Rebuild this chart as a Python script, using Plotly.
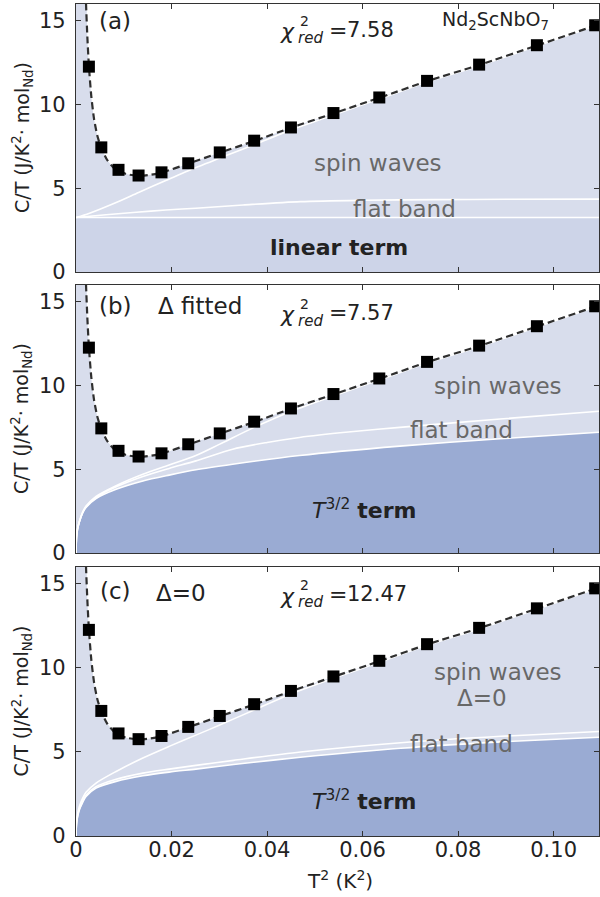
import plotly.graph_objects as go

# ---------------- data ----------------
t2 = [0.0027, 0.0053, 0.0089, 0.0131, 0.0179, 0.0235, 0.0301, 0.0373, 0.0450,
      0.0539, 0.0635, 0.0735, 0.0844, 0.0965, 0.1087]
ct = [12.26, 7.44, 6.10, 5.76, 5.95, 6.49, 7.14, 7.84, 8.63,
      9.49, 10.42, 11.41, 12.38, 13.54, 14.73]

fit_x = [0.0019, 0.0021, 0.0024, 0.0027, 0.0032, 0.0038, 0.0045, 0.0053, 0.0065,
         0.0078, 0.0089, 0.0105, 0.0131, 0.0155, 0.0179, 0.0235, 0.0301, 0.0373,
         0.0450, 0.0539, 0.0635, 0.0735, 0.0844, 0.0965, 0.1087]
fit_y = [18.0, 16.0, 13.9, 12.3, 10.5, 9.1, 8.1, 7.4, 6.7,
         6.25, 6.05, 5.85, 5.74, 5.80, 5.93, 6.47, 7.12, 7.82,
         8.61, 9.47, 10.40, 11.39, 12.36, 13.52, 14.71]

# panel (a)
lin_a_x = [0.0, 0.11]
lin_a_y = [3.25, 3.25]
flat_a_x = [0.0, 0.0063, 0.0126, 0.0188, 0.0251, 0.035, 0.047, 0.060, 0.075, 0.090, 0.110]
flat_a_y = [3.25, 3.42, 3.57, 3.70, 3.81, 4.00, 4.20, 4.28, 4.32, 4.34, 4.35]
sw_a_x = [0.0, 0.0027, 0.005, 0.0094, 0.0131, 0.0188, 0.0235, 0.0301, 0.0373, 0.045,
          0.0539, 0.0635, 0.0735, 0.0844, 0.0965, 0.110]
sw_a_y = [3.25, 3.50, 3.75, 4.27, 4.75, 5.46, 6.05, 6.80, 7.60, 8.48,
          9.38, 10.33, 11.34, 12.32, 13.49, 14.82]

# panel (b)
t32_b_x = [0.0, 0.0001, 0.0003, 0.0007, 0.0014, 0.0021, 0.0042, 0.0084, 0.014, 0.0195,
           0.0251, 0.0328, 0.0468, 0.0678, 0.0888, 0.110]
t32_b_y = [0.0, 0.90, 1.40, 1.85, 2.40, 2.72, 3.25, 3.80, 4.30, 4.65,
           4.97, 5.30, 5.82, 6.38, 6.82, 7.22]
flat_b_x = [0.0, 0.0001, 0.0003, 0.0007, 0.0014, 0.0021, 0.0042, 0.0084, 0.014, 0.0195,
            0.0251, 0.0328, 0.040, 0.0468, 0.057, 0.0678, 0.0888, 0.110]
flat_b_y = [0.0, 0.90, 1.40, 1.86, 2.42, 2.76, 3.32, 3.95, 4.57, 5.05,
            5.50, 6.20, 6.60, 6.90, 7.22, 7.50, 8.00, 8.47]
sw_b_x = [0.0, 0.0001, 0.0003, 0.0007, 0.0014, 0.0021, 0.0042, 0.0084, 0.014, 0.0195,
          0.0251, 0.0301, 0.0373, 0.045, 0.0539, 0.0635, 0.0735, 0.0844, 0.0965, 0.110]
sw_b_y = [0.0, 0.90, 1.40, 1.87, 2.44, 2.80, 3.38, 4.02, 4.70, 5.25,
          5.82, 6.50, 7.50, 8.45, 9.38, 10.33, 11.34, 12.32, 13.49, 14.82]

# panel (c)
t32_c_x = [0.0, 0.0001, 0.0003, 0.0007, 0.0014, 0.0021, 0.0042, 0.0084, 0.014, 0.0195,
           0.0251, 0.033, 0.047, 0.068, 0.089, 0.110]
t32_c_y = [0.0, 0.70, 1.10, 1.55, 2.00, 2.35, 2.85, 3.25, 3.58, 3.80,
           3.98, 4.25, 4.68, 5.22, 5.60, 5.88]
flat_c_y = [0.0, 0.72, 1.13, 1.60, 2.06, 2.42, 2.94, 3.38, 3.74, 3.98,
            4.20, 4.50, 5.00, 5.55, 5.93, 6.22]
sw_c_y = [0.0, 0.80, 1.25, 1.75, 2.25, 2.60, 3.15, 3.84, 4.64, 5.33,
          6.00, 6.60, 7.50, 8.45, 9.38, 10.33, 11.34, 12.32, 13.49, 14.82]

x_ticks = [0, 0.02, 0.04, 0.06, 0.08, 0.10]
x_ticklabels = ["0", "0.02", "0.04", "0.06", "0.08", "0.10"]
y_ticks = [0, 5, 10, 15]
YMAX = 16.0
XMAX = 0.1095

# ---------------- styling ----------------
LIGHT = "#d8ddec"
LIN = "#cdd4e8"
DARK = "#9aabd3"
GRAY = "#686868"
FONT = "DejaVu Sans"

W, H = 600, 897
ML, MR, MT, MB = 76, 1, 4, 61
PW = W - ML - MR
PH = H - MT - MB

panels = [(4, 272), (285, 553), (567, 836)]  # pixel top/bottom of each panel


def dom(top, bot):
    return [(H - MB - bot) / PH, (H - MB - top) / PH]


fig = go.Figure()

fill_x = [0.0] + fit_x + [XMAX]
fill_y = [YMAX] + [min(v, YMAX) for v in fit_y] + [14.82]


def white_line(x, y, xa, ya, fill=None, fc=None):
    fig.add_trace(go.Scatter(
        x=x, y=y, xaxis=xa, yaxis=ya, mode="lines",
        line=dict(color="white", width=1.6, shape="spline", smoothing=0.8),
        fill=fill, fillcolor=fc, hoverinfo="skip", showlegend=False))


axes = [("x", "y"), ("x2", "y2"), ("x3", "y3")]
for i, (xa, ya) in enumerate(axes):
    fig.add_trace(go.Scatter(
        x=fill_x, y=fill_y, xaxis=xa, yaxis=ya, mode="lines",
        line=dict(width=0, shape="spline", smoothing=0.6),
        fill="tozeroy", fillcolor=LIGHT, hoverinfo="skip", showlegend=False))
    if i == 0:
        white_line(lin_a_x, lin_a_y, xa, ya, fill="tozeroy", fc=LIN)
        white_line(flat_a_x, flat_a_y, xa, ya)
        white_line(sw_a_x, sw_a_y, xa, ya)
    elif i == 1:
        white_line(t32_b_x, t32_b_y, xa, ya, fill="tozeroy", fc=DARK)
        white_line(flat_b_x, flat_b_y, xa, ya)
        white_line(sw_b_x, sw_b_y, xa, ya)
    else:
        white_line(t32_c_x, t32_c_y, xa, ya, fill="tozeroy", fc=DARK)
        white_line(t32_c_x, flat_c_y, xa, ya)
        white_line(sw_b_x, sw_c_y, xa, ya)
    fig.add_trace(go.Scatter(
        x=fit_x, y=fit_y, xaxis=xa, yaxis=ya, mode="lines",
        line=dict(color="#2f2f2f", width=2.2, dash="7px,4px", shape="spline", smoothing=0.6),
        hoverinfo="skip", showlegend=False))
    fig.add_trace(go.Scatter(
        x=t2, y=ct, xaxis=xa, yaxis=ya, mode="markers",
        marker=dict(symbol="square", size=12, color="black", line=dict(width=0)),
        showlegend=False))

axis_common = dict(showline=True, linecolor="#333333", linewidth=1.3, mirror="allticks",
                   ticks="inside", ticklen=5, tickwidth=1.1, tickcolor="#333333",
                   showgrid=False, zeroline=False, automargin=False,
                   tickfont=dict(family=FONT, size=21, color="#222"))

layout = dict(width=W, height=H, margin=dict(l=ML, r=MR, t=MT, b=MB, autoexpand=False),
              paper_bgcolor="white", plot_bgcolor="white",
              font=dict(family=FONT, color="#222"), showlegend=False)
for i, (top, bot) in enumerate(panels):
    sfx = "" if i == 0 else str(i + 1)
    xa = dict(axis_common, range=[0, XMAX], tickvals=x_ticks, ticktext=x_ticklabels,
              domain=[0, 1], anchor="y" + sfx, showticklabels=(i == 2))
    if i == 2:
        xa["ticklabelstandoff"] = -5
    if i > 0:
        xa["matches"] = "x"
    ya = dict(axis_common, range=[0, YMAX], tickvals=y_ticks, domain=dom(top, bot),
              anchor="x" + sfx, ticklabelstandoff=5)
    layout["xaxis" + sfx] = xa
    layout["yaxis" + sfx] = ya
fig.update_layout(**layout)


def ann(px, py, text, size=23, color="#222", xanchor="center", yanchor="middle", angle=0):
    fig.add_annotation(x=(px - ML) / PW, y=(H - MB - py) / PH, xref="paper", yref="paper",
                       text=text, showarrow=False, xanchor=xanchor, yanchor=yanchor,
                       textangle=angle, font=dict(family=FONT, size=size, color=color))


def chi(px, py, val):
    ann(px, py + 2, "<i>χ</i>", size=22, xanchor="right")
    ann(px + 1, py - 9, "2", size=14, xanchor="left")
    ann(px - 1, py + 8, "<i>red</i>", size=15, xanchor="left")
    ann(px + 30, py, "=", size=22, xanchor="left")
    ann(px + 48, py, val, size=21, xanchor="left")


# axis titles
ytitle = "C/T (J/K<sup>2</sup>· mol<sub>Nd</sub>)"
for top, bot in panels:
    ann(22, (top + bot) / 2, ytitle, size=19, angle=-90)
ann(340, 880, "T<sup>2</sup> (K<sup>2</sup>)", size=20)

# panel (a)
ann(115, 21, "(a)")
chi(297, 30, "7.58")
ann(495, 20, "Nd<sub>2</sub>ScNbO<sub>7</sub>", size=19)
ann(378, 163, "spin waves", color=GRAY)
ann(404, 209, "flat band", color=GRAY)
ann(339, 248, "<b>linear term</b>", size=22)

# panel (b)
ann(115, 306, "(b)")
ann(200, 306, "Δ fitted")
chi(297, 313, "7.57")
ann(498, 386, "spin waves", color=GRAY)
ann(461, 430, "flat band", color=GRAY)
ann(364, 509, "<i>T</i><sup>3/2</sup> <b>term</b>", size=22)

# panel (c)
ann(115, 591, "(c)")
ann(181, 593, "Δ=0")
chi(297, 594, "12.47")
ann(498, 672, "spin waves", color=GRAY)
ann(482, 698, "Δ=0", color=GRAY)
ann(461, 744, "flat band", color=GRAY)
ann(364, 800, "<i>T</i><sup>3/2</sup> <b>term</b>", size=22)

fig.write_html("out.html", config={"displayModeBar": False},
               post_script="document.body.style.margin='0';document.body.style.padding='0';")
